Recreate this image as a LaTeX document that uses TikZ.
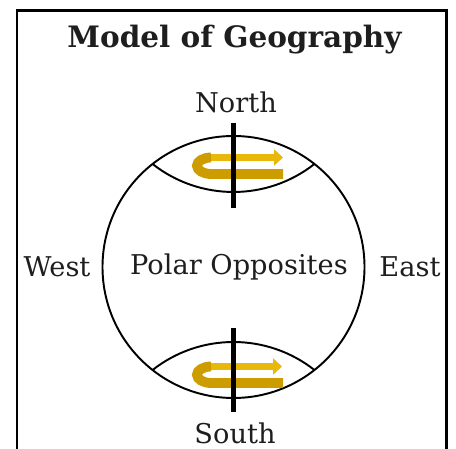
\documentclass[tikz,border=0pt]{standalone}
\usepackage{fontspec}
\setmainfont{DejaVu Serif}
\usepackage{xcolor}
\usetikzlibrary{arrows.meta}

\definecolor{spingold}{HTML}{E8B80A}
\definecolor{spindark}{HTML}{CC9C00}
\definecolor{inkgray}{HTML}{1E1E1E}

\begin{document}
\begin{tikzpicture}[x=0.02cm,y=0.02cm,
  label text/.style={font=\fontsize{15.5}{18}\selectfont, text=inkgray, inner sep=0pt},
  spin back/.style={spingold, line width=4.5pt, line cap=butt},
  spin front/.style={spindark, line width=5.6pt, line cap=butt},
  axis line/.style={black, line width=2.4pt}]

\useasboundingbox (0,0) rectangle (456,449);

% Frame (open at the bottom)
\draw[black, line width=1.7pt] (17,0) -- (17,438) -- (446,438) -- (446,0);

% Title
\node[label text, font=\bfseries\fontsize{16.8}{20}\selectfont] (title) at (234.5,409) {Model of Geography};

% Globe
\draw[black, line width=1.1pt] (233.5,182) circle (131);

% Polar caps (lens outlines)
\draw[black, line width=1.1pt] (233.5,388) ++(231.8:131) arc[start angle=231.8,end angle=308.2,radius=131];
\draw[black, line width=1.1pt] (233.5,-24) ++(51.8:131) arc[start angle=51.8,end angle=128.2,radius=131];

% Spin arrows, north
\draw[spin back, -{Triangle[length=5pt,width=9pt]}] (208,291.5) -- (283,291.5);
\draw[spin front] (283,275) -- (211,275) arc[start angle=270,end angle=90,x radius=14,y radius=8.25];

% Spin arrows, south
\draw[spin back, -{Triangle[length=5pt,width=9pt]}] (208,82.5) -- (282,82.5);
\draw[spin front] (283,66) -- (211,66) arc[start angle=270,end angle=90,x radius=14,y radius=8.25];

% Axis
\draw[axis line] (233.5,326) -- (233.5,241);
\draw[axis line] (233.5,121) -- (233.5,37);

% Labels
\node[label text] (north) at (236,347) {North};
\node[label text, anchor=base] (south) at (235,5) {South};
\node[label text] (west) at (57,182) {West};
\node[label text] (east) at (410,182) {East};
\node[label text] (polar) at (239,182) {Polar Opposites};

\end{tikzpicture}
\end{document}
